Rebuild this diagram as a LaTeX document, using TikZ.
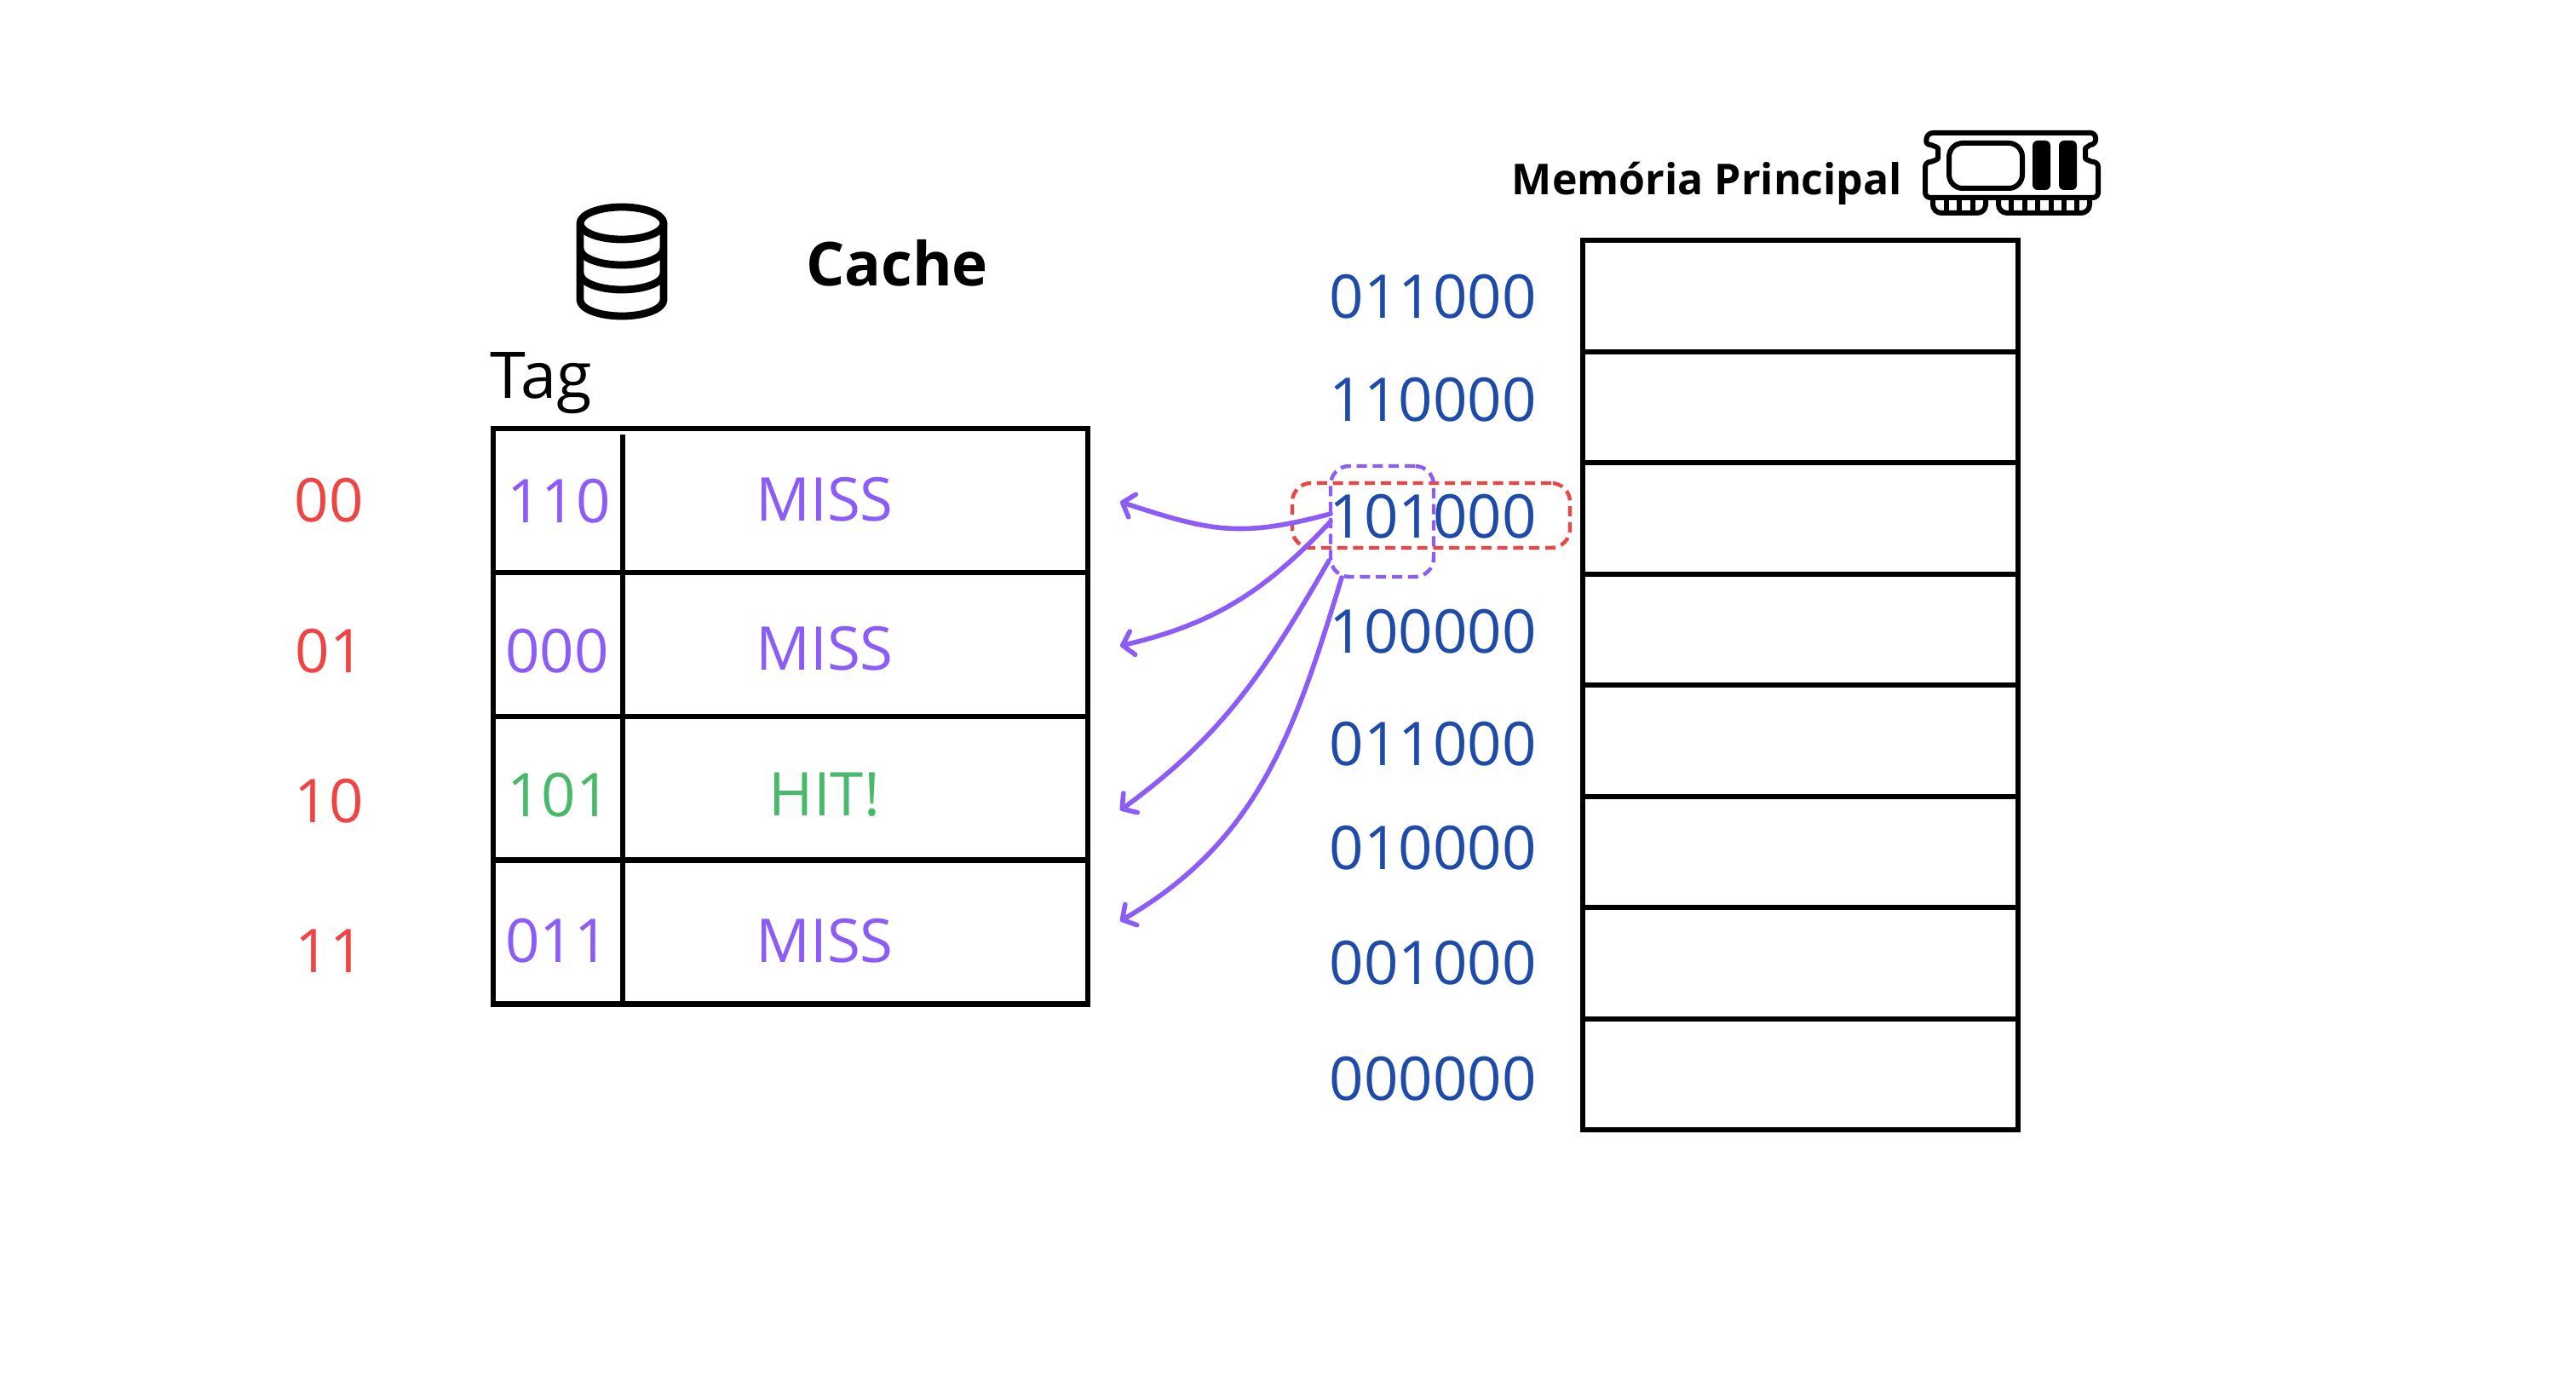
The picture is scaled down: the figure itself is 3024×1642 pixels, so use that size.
\documentclass[tikz,border=0pt]{standalone}
\usepackage{fontspec}
\setmainfont{Open Sans}
\usepackage{xcolor}
\usetikzlibrary{arrows.meta,positioning}
\definecolor{tagpurple}{HTML}{8B5CF6}
\definecolor{idxred}{HTML}{EF4444}
\definecolor{hitgreen}{HTML}{4AB96B}
\definecolor{addrblue}{HTML}{1E4BA8}

\begin{document}
\begin{tikzpicture}[
    x=0.5pt, y=-0.5pt,
    label/.style={inner sep=0pt, font=\fontsize{35.4}{40}\selectfont},
    idx/.style={label, text=idxred},
    tagtxt/.style={label, text=tagpurple},
    addr/.style={label, text=addrblue},
    row/.style={draw, line width=3.2pt, outer sep=0pt, minimum width=349pt, minimum height=84.4pt},
    cell/.style={draw, line width=3.2pt, outer sep=0pt, minimum width=255.5pt, minimum height=65.25pt},
    dashbox/.style={draw, line width=2.2pt, dash pattern=on 6pt off 3.4pt, rounded corners=11pt, inner sep=0pt},
    arrow/.style={-{Straight Barb[length=6pt,width=14pt,round]}, line width=2.8pt, tagpurple, line cap=round},
    icon/.style={line width=4.4pt, line join=round}
]
\useasboundingbox (0,0) rectangle (3024,1642);

% cache
\node[row] (row0) at (928,587.5) {};
\node[row, below=0pt of row0] (row1) {};
\node[row, below=0pt of row1] (row2) {};
\node[row, below=0pt of row2] (row3) {};
\coordinate (sep) at (731,510);
\draw[line width=3.2pt] (sep) -- (sep |- row3.south);

\node[label, font=\fontsize{35.6}{40}\selectfont\bfseries] (cache) at (1053,309) {Cache};
\node[label, font=\fontsize{37.8}{42}\selectfont] (tag) at (635,450) {Tag};

\node[idx] (i0) at (386,587) {00};
\node[idx] (i1) at (387,764) {01};
\node[idx] (i2) at (386,940) {10};
\node[idx] (i3) at (387,1116) {11};

\node[tagtxt] (t0) at (656,588) {110};
\node[tagtxt] (t1) at (654,764) {000};
\node[label, text=hitgreen] (t2) at (656,933) {101};
\node[tagtxt] (t3) at (654,1104) {011};

\node[tagtxt] (r0) at (968,586) {MISS};
\node[tagtxt] (r1) at (968,761) {MISS};
\node[label, text=hitgreen] (r2) at (968,933) {HIT!};
\node[tagtxt] (r3) at (968,1104) {MISS};

% main memory
\node[cell] (m0) at (2113.5,347.5) {};
\node[cell, below=0pt of m0] (m1) {};
\node[cell, below=0pt of m1] (m2) {};
\node[cell, below=0pt of m2] (m3) {};
\node[cell, below=0pt of m3] (m4) {};
\node[cell, below=0pt of m4] (m5) {};
\node[cell, below=0pt of m5] (m6) {};
\node[cell, below=0pt of m6] (m7) {};

\node[label, font=\fontsize{25}{28}\selectfont\bfseries] (mem) at (2004,215) {Memória Principal};

\node[addr] (a0) at (1682,348) {011000};
\node[addr] (a1) at (1682,469) {110000};
\node[addr] (a2) at (1682,606) {101000};
\node[addr] (a3) at (1682,741) {100000};
\node[addr] (a4) at (1682,873) {011000};
\node[addr] (a5) at (1682,995) {010000};
\node[addr] (a6) at (1682,1130) {001000};
\node[addr] (a7) at (1682,1266) {000000};

% address fields
\node[dashbox, idxred, minimum width=163pt, minimum height=38pt] (addrbox) at (1680,605) {};
\node[dashbox, tagpurple, minimum width=60.5pt, minimum height=65pt] (tagbox) at (1622.5,612) {};

\coordinate (s0) at (1562,603);
\coordinate (s1) at (1562,612);
\coordinate (s2) at (1560,658);
\coordinate (s3) at (1575,678);
\coordinate (e0) at (1315,589);
\coordinate (e1) at (1315,758);
\coordinate (e2) at (1315,951);
\coordinate (e3) at (1315,1081);

\draw[arrow] (s0) to[out=195,in=-18,looseness=1.15] (e0);
\draw[arrow] (s1) to[out=227,in=13] (e1);
\draw[arrow] (s2) to[out=240,in=36] (e2);
\draw[arrow] (s3) to[out=253,in=30] (e3);

% database icon
\draw[icon] (730,262) ellipse (49 and 19);
\draw[icon] (681,262) -- (681,352) arc[start angle=180,end angle=0,x radius=49,y radius=19] -- (779,262);
\draw[icon] (681,292) arc[start angle=180,end angle=0,x radius=49,y radius=19];
\draw[icon] (681,321) arc[start angle=180,end angle=0,x radius=49,y radius=19];

% ram icon
\draw[icon, line width=3pt, rounded corners=3pt]
  (2263,156) -- (2460,156) -- (2460,170) to[out=180,in=90] (2448,180) to[out=-90,in=180] (2463,190) -- (2463,232)
  -- (2260,232) -- (2260,190) to[out=0,in=-90] (2275,180) to[out=90,in=0] (2260,170) -- cycle;
\draw[icon, line width=3pt, rounded corners=8pt] (2288,168) rectangle (2374,221);
\fill[rounded corners=3pt] (2386,165) rectangle (2407,223);
\fill[rounded corners=3pt] (2417,165) rectangle (2438,223);
\draw[icon, line width=3pt, rounded corners=5pt] (2269,232) -- (2269,250) -- (2331,250) -- (2331,232);
\draw[icon, line width=3pt, rounded corners=5pt] (2346,232) -- (2346,250) -- (2453,250) -- (2453,232);
\foreach \x in {2285,2300,2316,2361,2377,2392,2408,2423,2438}
  \draw[line width=2.6pt] (\x,232) -- (\x,250);
\end{tikzpicture}
\end{document}
